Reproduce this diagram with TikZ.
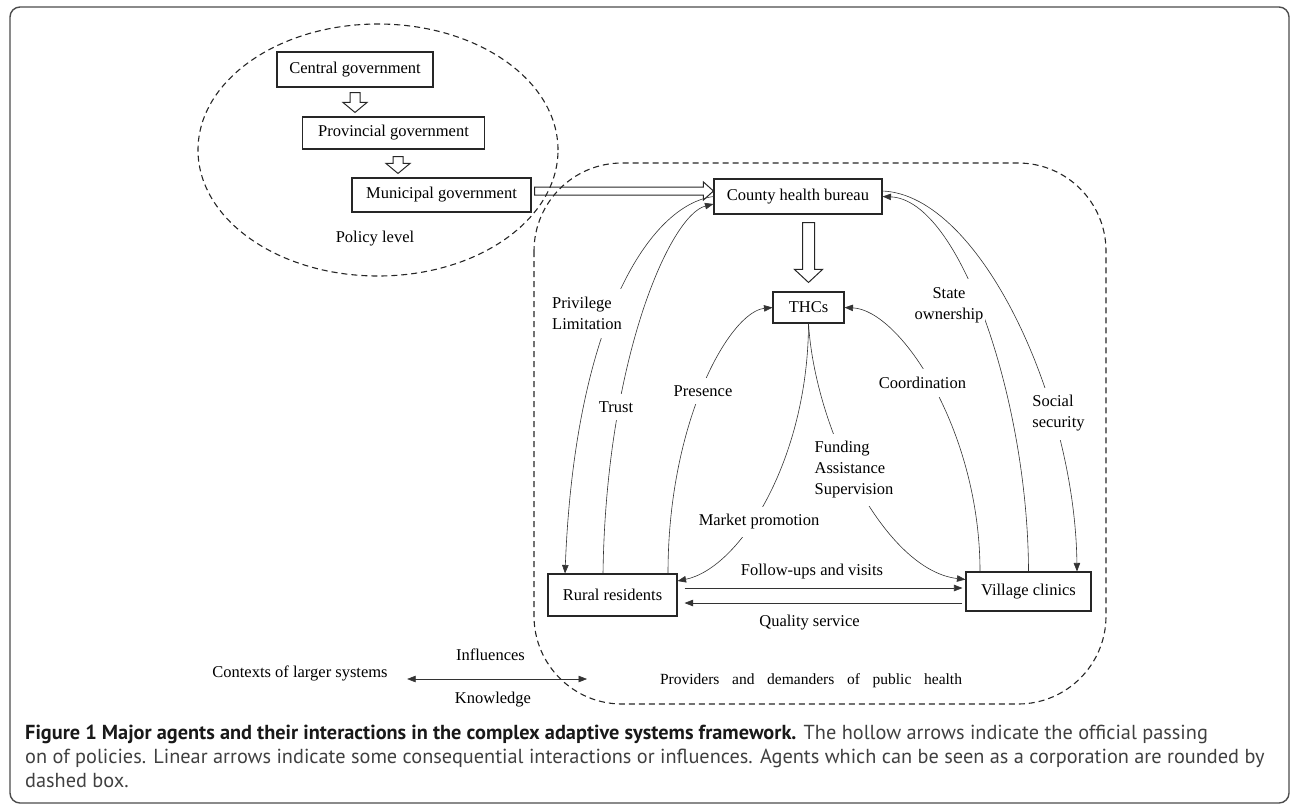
\documentclass[tikz,border=0pt]{standalone}
\usepackage{fontspec}
\setmainfont{Liberation Serif}
\newfontfamily\capfont{PT Sans}
\usetikzlibrary{arrows.meta}
\usetikzlibrary{calc}

% hollow arrow: start, tip, half shaft, half head, head length
\newcommand{\hollowarrow}[5]{%
  \coordinate (ha) at (#1);
  \coordinate (hb) at (#2);
  \coordinate (hn) at ($(hb)!#5!(ha)$);
  \draw[hollow]
    ($(ha)!#3!90:(hb)$)
    -- ($(hn)!#3!-90:(ha)$)
    -- ($(hn)!#4!-90:(ha)$)
    -- (hb)
    -- ($(hn)!#4!90:(ha)$)
    -- ($(hn)!#3!90:(ha)$)
    -- ($(ha)!#3!-90:(hb)$)
    -- cycle;}

\begin{document}
\begin{tikzpicture}[x=1pt,y=-1pt,
  font=\fontsize{16.5}{21}\selectfont,
  agent/.style={draw=black!85,line width=1.1pt,inner sep=0pt},
  lbl/.style={fill=white,inner xsep=2pt,inner ysep=8pt,align=left},
  link/.style={draw=black!80,line width=0.6pt},
  linkarrow/.style={arrows={-Triangle[length=8.5pt,width=6.5pt]}},
  twoway/.style={arrows={Triangle[length=8.5pt,width=6.5pt]-Triangle[length=8.5pt,width=6.5pt]}},
  hollow/.style={draw=black!85,line width=1pt},
  zone/.style={draw=black!85,line width=1.1pt,dash pattern=on 6pt off 4pt},
  frame/.style={draw=black!70,line width=1.4pt,rounded corners=10pt}]
  \useasboundingbox (0,0) rectangle (1292,807);
  \draw[frame]
    (10,7)
    rectangle
    (1289,803);

  % dashed groups
  \draw[zone] (378,150) ellipse [x radius=180pt, y radius=126pt];
  \draw[zone,rounded corners=88pt]
    (534,163)
    rectangle
    (1106,704);

  % policy level
  \node[agent,minimum width=156pt,minimum height=35pt] (cg) at (355,69.5) {Central government};
  \node[agent,minimum width=182pt,minimum height=32pt] (pg) at (393.5,133) {Provincial government};
  \node[agent,minimum width=179pt,minimum height=34pt] (mg) at (441.5,195) {Municipal government};
  \node (policy) at (375,239) {Policy level};

  % agents
  \node[agent,minimum width=168pt,minimum height=35pt] (chb) at (798,196.5) {County health bureau};
  \node[agent,minimum width=71pt,minimum height=31pt] (thc) at (808.5,307.5) {THCs};
  \node[agent,minimum width=129pt,minimum height=42pt] (rr) at (612.5,595) {Rural residents};
  \node[agent,minimum width=125pt,minimum height=39pt] (vc) at (1028.5,591.5) {Village clinics};

  % official passing of policies
  \hollowarrow{$(cg.south)+(0,5)$}{$(cg.south |- pg.north)+(0,-4)$}{5pt}{12pt}{10pt}
  \hollowarrow{$(pg.south)+(4.5,7)$}{$(mg.north)+(-43.5,-4)$}{5pt}{12pt}{10pt}
  \hollowarrow{$(mg.east)+(3,-4)$}{$(chb.west)+(0,-5.5)$}{4pt}{9pt}{10pt}
  \hollowarrow{$(chb.south)+(10.5,8)$}{$(thc.north)+(0,-9)$}{6pt}{14pt}{13pt}

  % interactions
  \draw[link,linkarrow]
    (chb.west) .. controls (650,205) and (575,320) .. ([xshift=-47.5pt]rr.north);
  \draw[link,linkarrow]
    ([xshift=-9.5pt]rr.north) .. controls (606,360) and (670,215) .. ([yshift=-7.5pt]chb.west);
  \draw[link,linkarrow]
    ([xshift=55.5pt]rr.north) .. controls (668,420) and (730,312) .. (thc.west);
  \draw[link,linkarrow]
    (thc.south) .. controls (808,460) and (740,568) .. ([yshift=14pt]rr.east);
  \draw[link,linkarrow]
    (thc.south) .. controls (815,430) and (885,570) .. ([yshift=12pt]vc.west);
  \draw[link,linkarrow]
    ([xshift=-48.5pt]vc.north) .. controls (980,430) and (900,310) .. (thc.east);
  \draw[link,linkarrow]
    (vc.north) .. controls (1028,400) and (960,200) .. (chb.east);
  \draw[link,linkarrow]
    ([yshift=5.5pt]chb.east) .. controls (980,195) and (1075,400) .. ([xshift=48.5pt]vc.north);

  \coordinate (fu) at ([xshift=7pt,yshift=7pt]rr.east);
  \coordinate (qs) at ([xshift=-3pt,yshift=-11.5pt]vc.west);
  \draw[link,linkarrow,shorten >=3pt]
    (fu)
    --
    (fu -| vc.west);
  \draw[link,linkarrow,shorten >=7pt]
    (qs)
    --
    (qs -| rr.east);

  % labels
  \node[lbl] (privlim) at (587,313.5) {Privilege\\Limitation};
  \node[lbl] (trust) at (616,407) {Trust};
  \node[lbl] (presence) at (703,391) {Presence};
  \node[lbl] (market) at (759,522) {Market promotion};
  \node[lbl] (funding) at (854,470) {Funding\\Assistance\\Supervision};
  \node[lbl] (coordination) at (922.5,383) {Coordination};
  \node[lbl,align=center] (stateown) at (949,305) {State\\ownership};
  \node[lbl] (socsec) at (1058.5,413.5) {Social\\security};
  \node (followup) at (812,572) {Follow-ups and visits};
  \node (quality) at (809.5,623) {Quality service};

  % larger systems
  \node (ctx) at (300,673) {Contexts of larger systems};
  \node (influence) at (490.5,655) {Influences};
  \node (knowledge) at (493,700) {Knowledge};
  \node[font=\fontsize{15.5}{19}\selectfont] (providers) at (811,681)
    {\spaceskip=12.7pt Providers and demanders of public health};
  \coordinate (zoneedge) at (587,679);
  \path ([xshift=16pt]ctx.east) coordinate (ctxr);
  \draw[link,twoway]
    (ctxr |- zoneedge)
    --
    (zoneedge);

  % caption
  \begin{scope}[font=\capfont\fontsize{20.3}{24}\selectfont,text=black!75]
    \node[anchor=base west,inner sep=0pt] (cap1) at (25,739)
      {\textbf{\color{black!90}Figure 1 Major agents and their interactions in the complex adaptive systems framework.} The hollow arrows indicate the official passing};
    \node[anchor=base west,inner sep=0pt] (cap2) at (25,763)
      {on of policies. Linear arrows indicate some consequential interactions or influences. Agents which can be seen as a corporation are rounded by};
    \node[anchor=base west,inner sep=0pt] (cap3) at (25,787)
      {dashed box.};
  \end{scope}
\end{tikzpicture}
\end{document}
